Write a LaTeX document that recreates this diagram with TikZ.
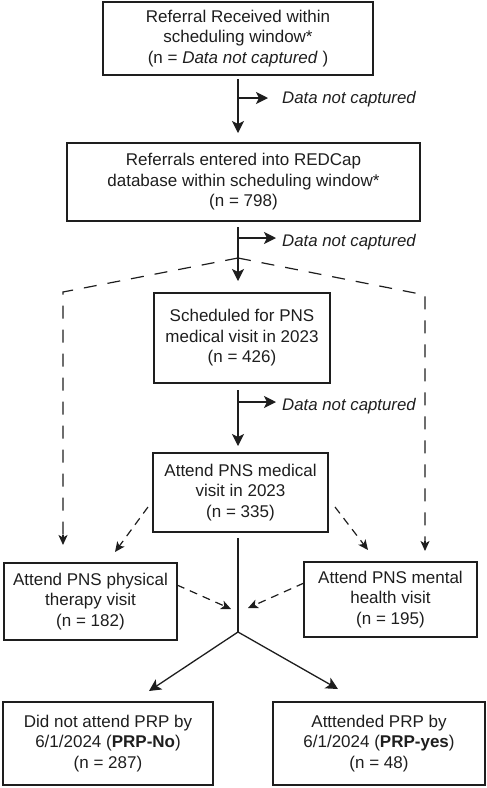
\documentclass[tikz,border=0pt]{standalone}
\usepackage{fontspec}
\setmainfont{Liberation Sans}
\usetikzlibrary{arrows.meta}
\definecolor{ink}{HTML}{1E1E1E}
\begin{document}
\begin{tikzpicture}[x=1pt,y=-1pt,
  box/.style={draw=ink, line width=1.5pt, inner sep=0pt, align=center, text=ink,
    font=\fontsize{17}{20.5}\selectfont},
  note/.style={anchor=west, inner sep=0pt, text=ink, font=\fontsize{16.8}{20.5}\selectfont\itshape},
  arr/.style={draw=ink, line width=1.3pt, -{Stealth[length=12pt,width=12pt,inset=3pt]}},
  darr/.style={-{Stealth[length=10pt,width=9pt,inset=2.5pt]}},
  plain/.style={draw=ink, line width=1.3pt},
  longdash/.style={draw=ink, line width=1.2pt, dash pattern=on 13pt off 11pt},
  shortdash/.style={draw=ink, line width=1.2pt, dash pattern=on 8pt off 6pt}]
\useasboundingbox (0,0) rectangle (487,788);

% boxes
\node[box, minimum width=270pt, minimum height=73pt] (b1) at (238,38.5)
  {Referral Received within\\scheduling window*\\(n = \textit{Data not captured} )};
\node[box, minimum width=353pt, minimum height=78pt] (b2) at (243.5,182)
  {Referrals entered into REDCap\\database within scheduling window*\\(n = 798)};
\node[box, minimum width=176pt, minimum height=90pt] (b3) at (242,338)
  {Scheduled for PNS\\medical visit in 2023\\(n = 426)};
\node[box, minimum width=175pt, minimum height=79pt] (b4) at (240.5,492.5)
  {Attend PNS medical\\visit in 2023\\(n = 335)};
\node[box, minimum width=173pt, minimum height=77pt] (b5) at (90.5,601.5)
  {Attend PNS physical\\therapy visit\\(n = 182)};
\node[box, minimum width=173pt, minimum height=75pt] (b6) at (390.5,599.5)
  {Attend PNS mental\\health visit\\(n = 195)};
\node[box, minimum width=210pt, minimum height=83pt] (b7) at (108,743.5)
  {Did not attend PRP by\\6/1/2024 (\textbf{PRP-No})\\(n = 287)};
\node[box, minimum width=212pt, minimum height=83pt] (b8) at (379,743.5)
  {Atttended PRP by\\6/1/2024 (\textbf{PRP-yes})\\(n = 48)};

% spine coordinates
\coordinate (s1a) at (238,79);  \coordinate (s1b) at (238,133);
\coordinate (s1c) at (238,98);  \coordinate (s1d) at (268,98);
\coordinate (s2a) at (238,227); \coordinate (s2b) at (238,281);
\coordinate (s2c) at (238,238); \coordinate (s2d) at (276,238);
\coordinate (s3a) at (238,390); \coordinate (s3b) at (238,446);
\coordinate (s3c) at (238,402); \coordinate (s3d) at (276,402);

\node[note] (n1) at (282,99) {Data not captured};
\node[note] (n2) at (282,242) {Data not captured};
\node[note] (n3) at (282,406) {Data not captured};

\draw[arr] (s1a) -- (s1b);
\draw[arr] (s1c) -- (s1d);
\draw[arr] (s2a) -- (s2b);
\draw[arr] (s2c) -- (s2d);
\draw[arr] (s3a) -- (s3b);
\draw[arr] (s3c) -- (s3d);

% long dashed branches
\coordinate (apex) at (238,258);
\coordinate (lc) at (63,292);  \coordinate (lt) at (63,545);
\coordinate (rc) at (425,295); \coordinate (rt) at (425,551);
\draw[longdash] (apex) -- (lc) -- (lt);
\draw[longdash] (apex) -- (rc) -- (rt);
\draw[plain, darr] ([yshift=10pt]lt) -- (lt);
\draw[plain, darr] ([yshift=10pt]rt) -- (rt);

% short dashed from b4
\coordinate (d1a) at (148,507); \coordinate (d1b) at (115,552);
\coordinate (d2a) at (335,507); \coordinate (d2b) at (368,550);
\draw[shortdash, darr] (d1a) -- (d1b);
\draw[shortdash, darr] (d2a) -- (d2b);

% center fork
\coordinate (c0) at (238,538); \coordinate (fork) at (238,632);
\coordinate (f1) at (149,691); \coordinate (f2) at (338,689);
\draw[plain] (c0) -- (fork);
\draw[arr] (fork) -- (f1);
\draw[arr] (fork) -- (f2);

% dashed into centre
\coordinate (e1a) at (177,585); \coordinate (e1b) at (231,609);
\coordinate (e2a) at (304,583); \coordinate (e2b) at (248,608);
\draw[shortdash, darr] (e1a) -- (e1b);
\draw[shortdash, darr] (e2a) -- (e2b);
\end{tikzpicture}
\end{document}
